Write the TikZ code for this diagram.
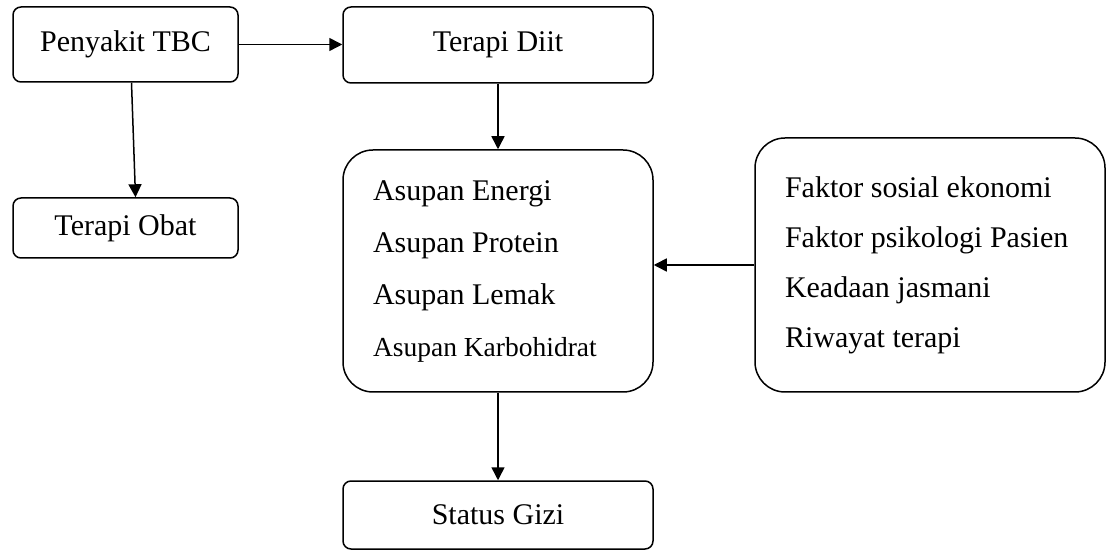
\documentclass[tikz,border=0pt]{standalone}
\usepackage{fontspec}
\setmainfont{Liberation Serif}
\usetikzlibrary{arrows.meta,calc}
\tikzstyle{box}=[draw=black, rounded corners=4pt, line width=0.75pt, inner sep=0pt, font=\fontsize{15}{18}\selectfont]
\tikzstyle{bigbox}=[draw=black, rounded corners=15pt, line width=0.75pt, inner xsep=15pt, inner ysep=0pt, align=flush left]
\tikzstyle{l1}=[line width=0.75pt, -{Triangle[length=6.5pt, width=6.5pt]}]

\begin{document}
\begin{tikzpicture}[x=0.5pt, y=-0.5pt]

    \useasboundingbox (0,0) rectangle (1108,550);
    \node[box, minimum width=112.5pt, minimum height=37.5pt] at (125.5,44.5) (tbc) {Penyakit TBC};
    \node[box, minimum width=155pt, minimum height=38pt] at (498,45) (diit) {Terapi Diit};
    \node[box, minimum width=112.5pt, minimum height=30pt] at (125.5,228) (obat) {Terapi Obat};
    \node[bigbox, minimum width=155pt, minimum height=121pt, text width=125pt, font=\fontsize{15}{26}\selectfont] at (498,271) (asupan)
        {Asupan Energi\\Asupan Protein\\Asupan Lemak\\{\fontsize{13.75}{26}\selectfont Asupan Karbohidrat}};
    \node[bigbox, minimum width=175pt, minimum height=127pt, text width=145pt, font=\fontsize{15}{25}\selectfont] at (930,265) (faktor)
        {Faktor sosial ekonomi\\Faktor psikologi Pasien\\Keadaan jasmani\\Riwayat terapi};
    \node[box, minimum width=155pt, minimum height=34pt] at (498,515) (gizi) {Status Gizi};

    \draw[l1] (tbc.east) -- (tbc.east -| diit.west);
    \draw[l1] ([xshift=3pt]tbc.south) -- ([xshift=5pt]obat.north);
    \draw[l1] (diit) -- (asupan);
    \draw[l1] (faktor.west) -- (faktor.west -| asupan.east);
    \draw[l1] (asupan) -- (gizi);

\end{tikzpicture}
\end{document}
